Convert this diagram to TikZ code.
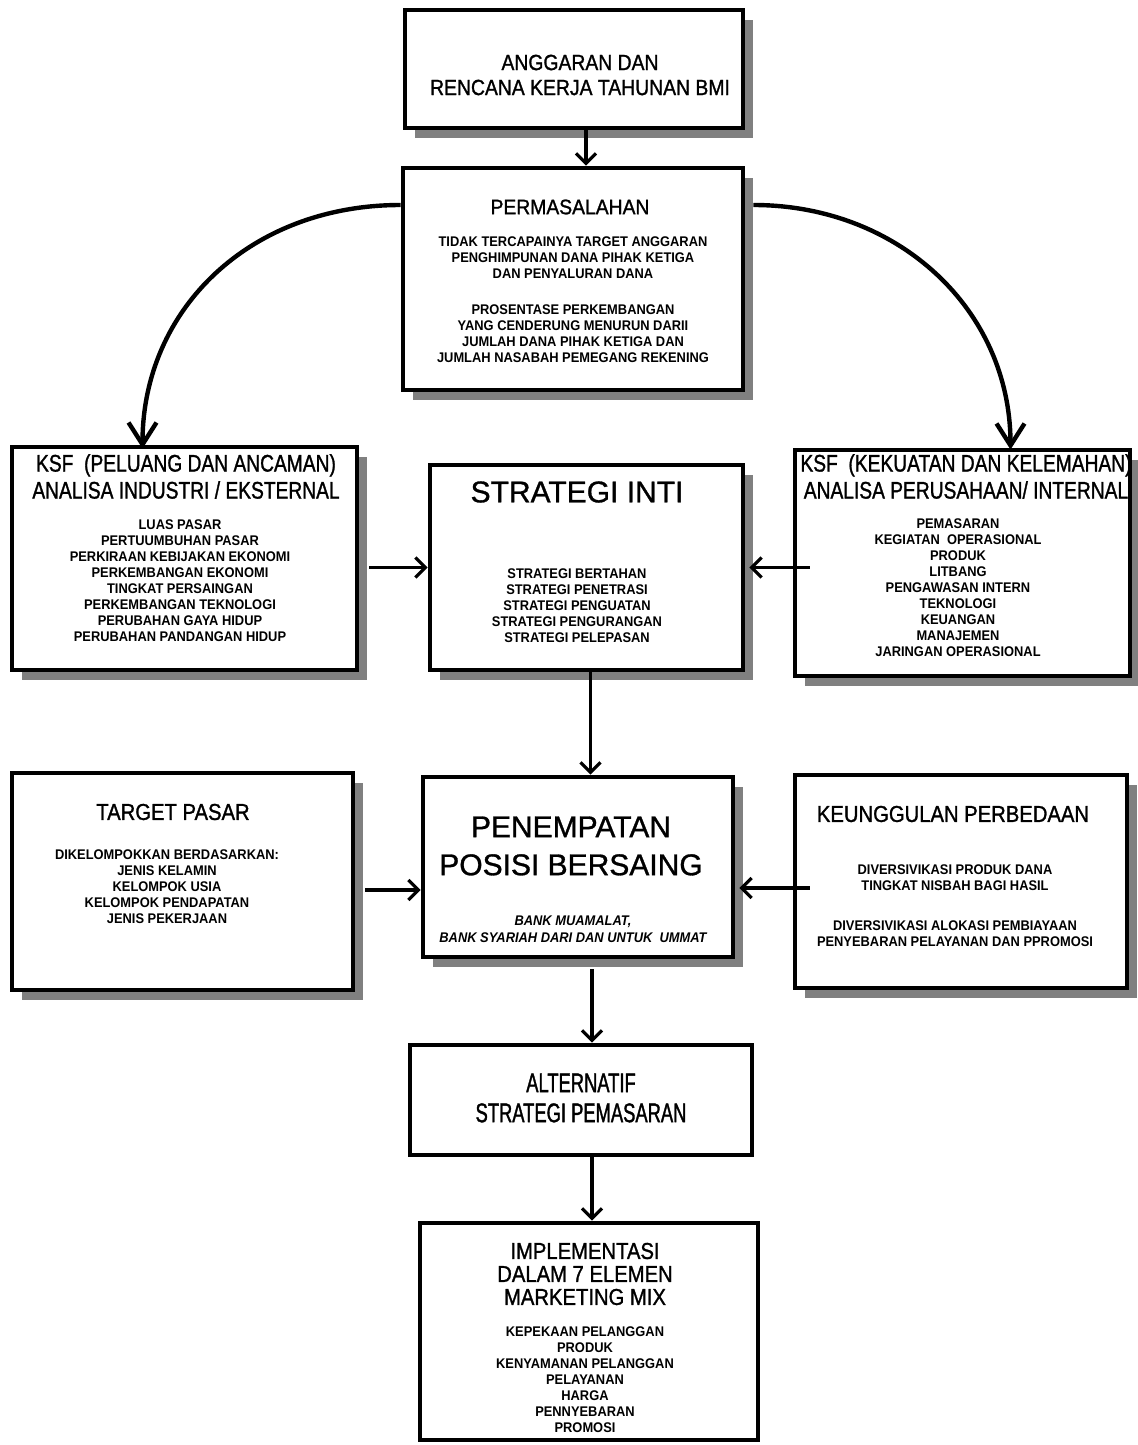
\documentclass[tikz,border=0pt]{standalone}
\usepackage{fontspec}
\setmainfont{Liberation Sans}[FakeBold=1]
\newfontfamily\fN{Liberation Sans}[FakeStretch=0.8,FakeBold=1.2]
\newfontfamily\fM{Liberation Sans}[FakeStretch=0.88,FakeBold=1.2]
\newfontfamily\fT{Liberation Sans}[FakeStretch=0.92,FakeBold=1.2]
\newfontfamily\fS{Liberation Sans}[FakeStretch=0.92]
\newfontfamily\fX{Liberation Sans}[FakeStretch=0.68,FakeBold=1.2]
\usetikzlibrary{arrows.meta,shadows,fit}
\tikzset{
  box/.style={draw, line width=2.4pt, fill=white, inner sep=0pt},
  shbox/.style={box, drop shadow={shadow xshift=5pt, shadow yshift=-5pt, fill=black!50, opacity=1}},
  tx/.style={align=center, inner sep=0pt},
  sm/.style={tx, font=\fS\bfseries\fontsize{7}{8}\selectfont},
  smbi/.style={tx, font=\fS\bfseries\itshape\fontsize{7}{8.5}\selectfont},
  tA/.style={tx, font=\fM\fontsize{11}{12.5}\selectfont},
  tB/.style={tx, font=\fT\fontsize{10.5}{12}\selectfont},
  tK/.style={tx, font=\fN\fontsize{12}{13.5}\selectfont},
  tL/.style={tx, font=\fontsize{15}{19}\selectfont},
  tT/.style={tx, font=\fM\fontsize{11.5}{13}\selectfont},
  tX/.style={tx, font=\fX\fontsize{13.5}{15}\selectfont},
  tI/.style={tx, font=\fM\fontsize{11.5}{11.5}\selectfont},
  arr/.style={line width=1.6pt, -{Straight Barb[length=5pt,width=10pt]}},
  curv/.style={line width=2.2pt, -{Straight Barb[length=11pt,width=14pt]}}
}
\begin{document}
\begin{tikzpicture}[x=0.5pt,y=-0.5pt]
\useasboundingbox (0,0) rectangle (1137,1445);
% boxes
\node[shbox, fit={(405,10) (743,128)}] (b1) {};
\node[shbox, fit={(403,168) (743,390)}] (b2) {};
\node[shbox, fit={(12,447) (357,670)}] (ksfL) {};
\node[shbox, fit={(430,465) (743,670)}] (strat) {};
\node[shbox, fit={(795,450) (1130,676)}] (ksfR) {};
\node[shbox, fit={(12,773) (353,990)}] (target) {};
\node[shbox, fit={(423,777) (733,957)}] (penem) {};
\node[shbox, fit={(795,775) (1127,988)}] (keung) {};
\node[box, fit={(410,1045) (752,1155)}] (alt) {};
\node[box, fit={(420,1223) (758,1440)}] (impl) {};
% texts
\node[tA] (t1) at (580,75) {ANGGARAN DAN\\RENCANA KERJA TAHUNAN BMI};
\node[tB] (t2) at (570,207) {PERMASALAHAN};
\node[sm] (t2a) at (573,258) {TIDAK TERCAPAINYA TARGET ANGGARAN\\PENGHIMPUNAN DANA PIHAK KETIGA\\DAN PENYALURAN DANA};
\node[sm] (t2b) at (573,334) {PROSENTASE PERKEMBANGAN\\YANG CENDERUNG MENURUN DARII\\JUMLAH DANA PIHAK KETIGA DAN\\JUMLAH NASABAH PEMEGANG REKENING};
\node[tK] (tkl) at (186,476.5) {KSF\ \ (PELUANG DAN ANCAMAN)\\ANALISA INDUSTRI / EKSTERNAL};
\node[sm] (tkla) at (180,580.5) {LUAS PASAR\\PERTUUMBUHAN PASAR\\PERKIRAAN KEBIJAKAN EKONOMI\\PERKEMBANGAN EKONOMI\\TINGKAT PERSAINGAN\\PERKEMBANGAN TEKNOLOGI\\PERUBAHAN GAYA HIDUP\\PERUBAHAN PANDANGAN HIDUP};
\node[tK] (tkr) at (966,476.5) {KSF\ \ (KEKUATAN DAN KELEMAHAN)\\ANALISA PERUSAHAAN/ INTERNAL};
\node[sm] (tkra) at (958,587.5) {PEMASARAN\\KEGIATAN\ \ OPERASIONAL\\PRODUK\\LITBANG\\PENGAWASAN INTERN\\TEKNOLOGI\\KEUANGAN\\MANAJEMEN\\JARINGAN OPERASIONAL};
\node[tL] (ts) at (577,492) {STRATEGI INTI};
\node[sm] (tsa) at (577,606) {STRATEGI BERTAHAN\\STRATEGI PENETRASI\\STRATEGI PENGUATAN\\STRATEGI PENGURANGAN\\STRATEGI PELEPASAN};
\node[tT] (tt) at (173,812) {TARGET PASAR};
\node[sm] (tta) at (167,887) {DIKELOMPOKKAN BERDASARKAN:\\JENIS KELAMIN\\KELOMPOK USIA\\KELOMPOK PENDAPATAN\\JENIS PEKERJAAN};
\node[tL] (tp) at (571,846) {PENEMPATAN\\POSISI BERSAING};
\node[smbi] (tpa) at (573,929.5) {BANK MUAMALAT,\\BANK SYARIAH DARI DAN UNTUK\ \ UMMAT};
\node[tT] (tkg) at (953,814) {KEUNGGULAN PERBEDAAN};
\node[sm] (tkga) at (955,878) {DIVERSIVIKASI PRODUK DANA\\TINGKAT NISBAH BAGI HASIL};
\node[sm] (tkgb) at (955,934) {DIVERSIVIKASI ALOKASI PEMBIAYAAN\\PENYEBARAN PELAYANAN DAN PPROMOSI};
\node[tX] (ta) at (581,1098) {ALTERNATIF\\STRATEGI PEMASARAN};
\node[tI] (ti) at (585,1274) {IMPLEMENTASI\\DALAM 7 ELEMEN\\MARKETING MIX};
\node[sm] (tia) at (585,1380) {KEPEKAAN PELANGGAN\\PRODUK\\KENYAMANAN PELANGGAN\\PELAYANAN\\HARGA\\PENNYEBARAN\\PROMOSI};
% connector end points
\coordinate (pw) at ([yshift=-11.5pt]penem.west);
\coordinate (pe) at ([yshift=-10.5pt,xshift=2pt]penem.east);
% connectors
\draw[arr] ([xshift=6pt]b1.south) -- ([xshift=6pt]b1.south |- b2.north);
\draw[curv] ([yshift=37pt]b2.west) .. controls +(-150,0) and +(0,-140) .. ([xshift=-21pt,yshift=-2pt]ksfL.north);
\draw[curv] ([yshift=37pt,xshift=4pt]b2.east) .. controls +(145,0) and +(0,-140) .. ([xshift=24pt,yshift=-1pt]ksfR.north);
\draw[arr] ([xshift=5pt]ksfL.east |- strat.west) -- (strat.west);
\draw[arr] ([xshift=8.5pt]ksfR.west |- strat.east) -- ([xshift=2pt]strat.east);
\draw[arr] ([xshift=2pt]strat.south) -- ([xshift=2pt]strat.south |- penem.north);
\draw[arr] ([xshift=5pt]target.east |- pw) -- (pw);
\draw[arr] ([xshift=8.5pt]keung.west |- pe) -- (pe);
\draw[arr] ([xshift=7pt,yshift=-5pt]penem.south) -- ([xshift=7pt]penem.south |- alt.north);
\draw[arr] ([xshift=5.5pt]alt.south) -- ([xshift=5.5pt]alt.south |- impl.north);
\end{tikzpicture}
\end{document}
